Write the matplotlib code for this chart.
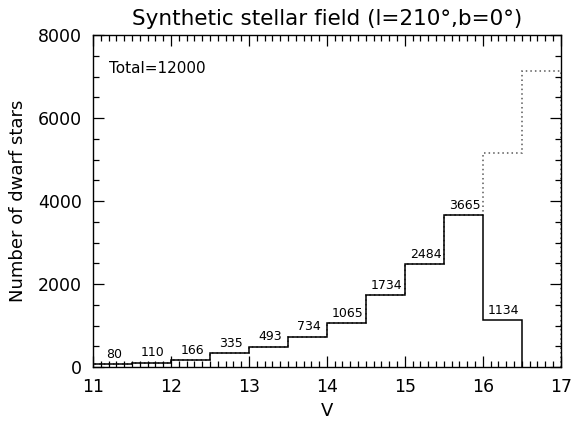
import numpy as np
import matplotlib
matplotlib.use("Agg")
import matplotlib.pyplot as plt
from matplotlib.ticker import MultipleLocator

# histogram in V, 0.5 mag bins
bin_edges = [11.0, 11.5, 12.0, 12.5, 13.0, 13.5, 14.0, 14.5, 15.0, 15.5, 16.0, 16.5, 17.0]
selected = [80, 110, 166, 335, 493, 734, 1065, 1734, 2484, 3665, 1134]
all_stars = [80, 110, 166, 335, 493, 734, 1065, 1734, 2484, 3665, 5150, 7130]
total = 12000

plt.rcParams['font.family'] = ['DejaVu Sans']

fig = plt.figure(figsize=(5.74, 4.23), dpi=100)
ax = fig.add_axes([0.162, 0.132, 0.815, 0.785])

ax.stairs(all_stars, bin_edges, color='0.35', lw=1.1, linestyle=(0, (1, 2)))
ax.stairs(selected, bin_edges[:len(selected) + 1], color='black', lw=1.1)

for i, n in enumerate(selected):
    xc = 0.5 * (bin_edges[i] + bin_edges[i + 1])
    ax.text(xc + 0.02, n + 80, str(n), ha='center', va='bottom', fontsize=9)

ax.text(0.035, 0.9, 'Total=%d' % total, transform=ax.transAxes, fontsize=11,
        ha='left', va='center')

ax.set_xlim(11, 17)
ax.set_ylim(0, 8000)
ax.xaxis.set_major_locator(MultipleLocator(1))
ax.xaxis.set_minor_locator(MultipleLocator(0.1))
ax.yaxis.set_major_locator(MultipleLocator(2000))
ax.yaxis.set_minor_locator(MultipleLocator(500))
ax.tick_params(which='both', direction='in', top=True, right=True, width=0.9)
ax.tick_params(which='major', length=8, labelsize=12.5, pad=8)
ax.tick_params(which='minor', length=4)
for s in ax.spines.values():
    s.set_linewidth(1.0)

ax.set_xlabel('V', fontsize=13, labelpad=4)
ax.set_ylabel('Number of dwarf stars', fontsize=13, labelpad=8)
ax.set_title('Synthetic stellar field (l=210°,b=0°)', fontsize=15.5, pad=7)

fig.savefig('out.png', dpi=100)
